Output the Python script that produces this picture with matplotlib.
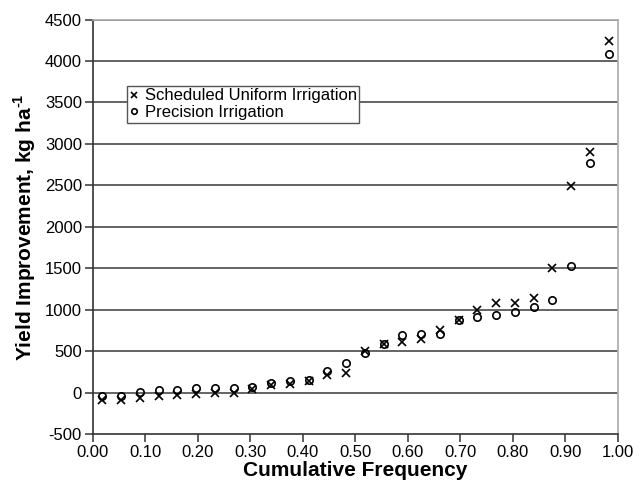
import numpy as np
import matplotlib.pyplot as plt

plt.rcParams['font.family'] = ['Liberation Sans', 'DejaVu Sans']
plt.rcParams['axes.unicode_minus'] = False
plt.rcParams['mathtext.fontset'] = 'custom'
plt.rcParams['mathtext.rm'] = 'Liberation Sans:bold'

# cumulative frequency, 28 years: (i - 0.5) / n
n_years = 28
cum_freq = (np.arange(1, n_years + 1) - 0.5) / n_years

uniform = [-95, -85, -70, -45, -35, -15, -8, -4, 45, 85, 105, 145, 215, 240,
           505, 580, 610, 640, 760, 870, 1000, 1080, 1085, 1135, 1500, 2490,
           2900, 4240]
precision = [-45, -45, 5, 25, 30, 55, 55, 55, 70, 115, 135, 150, 265, 355,
             475, 585, 690, 705, 710, 880, 915, 935, 975, 1035, 1115, 1530,
             2765, 4090]

y_ticks = np.arange(-500, 4501, 500)
x_ticks = np.arange(0, 1.001, 0.1)

fig = plt.figure(figsize=(6.4, 4.88), dpi=100)
ax = fig.add_axes([0.1453, 0.1107, 0.8203, 0.8493])

ax.set_yticks(y_ticks)
for v in y_ticks[1:]:
    ax.axhline(v, color='#3a3a3a', lw=1.1, zorder=1)

ax.plot(cum_freq, uniform, 'x', color='black', ms=5.5, mew=1.2,
        label='Scheduled Uniform Irrigation', zorder=3)
ax.plot(cum_freq, precision, 'o', mfc='none', mec='black', ms=5.3, mew=1.2,
        label='Precision Irrigation', zorder=3)

ax.set_xlim(0, 1.0)
ax.set_ylim(-500, 4500)
ax.set_xticks(x_ticks)
ax.set_xticklabels(['%.2f' % t for t in x_ticks])

for s in ['left', 'bottom']:
    ax.spines[s].set_color('#333333')
    ax.spines[s].set_linewidth(1.2)
for s in ['top', 'right']:
    ax.spines[s].set_color('#aaaaaa')
    ax.spines[s].set_linewidth(1.2)

ax.tick_params(axis='both', direction='out', length=6, width=1.1,
               color='#333333', labelsize=12, labelcolor='black', pad=2)

ax.set_xlabel('Cumulative Frequency', fontsize=15, fontweight='bold', labelpad=1)
ax.set_ylabel('Yield Improvement, kg ha$^{\\text{-1}}$', fontsize=15,
              fontweight='bold', labelpad=5)

leg = ax.legend(loc='upper left', bbox_to_anchor=(0.065, 0.84), fontsize=12,
                frameon=True, fancybox=False, handlelength=0.5,
                handletextpad=0.4, borderpad=0.15, labelspacing=0.1,
                borderaxespad=0, markerscale=0.75)
leg.get_frame().set_edgecolor('#555555')
leg.get_frame().set_linewidth(1.0)
leg.get_frame().set_alpha(1)
leg.set_zorder(5)

fig.savefig('out.png', dpi=100)
